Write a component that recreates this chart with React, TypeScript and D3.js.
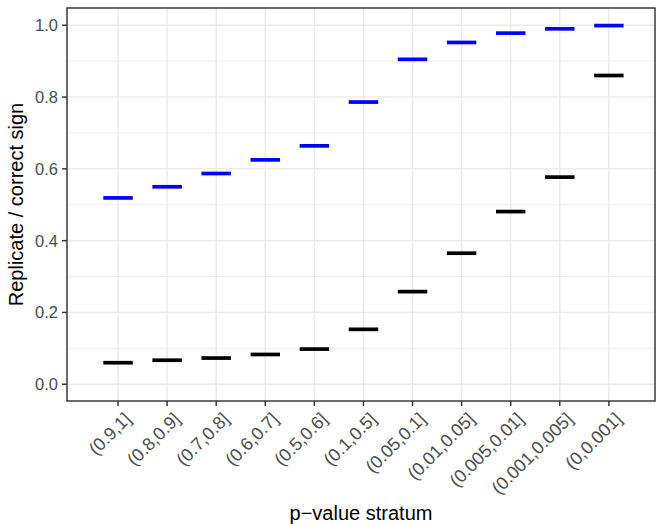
import React from 'react';
import * as d3 from 'd3';

const categories = [
  '(0.9,1]', '(0.8,0.9]', '(0.7,0.8]', '(0.6,0.7]', '(0.5,0.6]', '(0.1,0.5]',
  '(0.05,0.1]', '(0.01,0.05]', '(0.005,0.01]', '(0.001,0.005]', '(0,0.001]',
];
const correctSign = [0.519, 0.55, 0.587, 0.625, 0.664, 0.786, 0.905, 0.952, 0.978, 0.99, 0.999];
const replicate = [0.06, 0.067, 0.073, 0.083, 0.098, 0.153, 0.258, 0.365, 0.481, 0.577, 0.86];
const yTicks = [0, 0.2, 0.4, 0.6, 0.8, 1.0];
const yMinor = [0.1, 0.3, 0.5, 0.7, 0.9];

const W = 657;
const H = 524;
const panel = { left: 67, right: 655, top: 8, bottom: 401 };
const font = '"Liberation Sans", Arial, Helvetica, sans-serif';

const App = () => {
  const x = d3.scaleLinear().domain([-1.04, 10.94]).range([panel.left, panel.right]);
  const y = d3.scaleLinear().domain([-0.0466, 1.048]).range([panel.bottom, panel.top]);
  const half = 0.3;

  return (
    <svg width={W} height={H} style={{ position: 'absolute', left: 0, top: 0 }}>
      <rect x={0} y={0} width={W} height={H} fill="white" />
      {/* grid */}
      {yMinor.map((v) => (
        <line key={'mn' + v} x1={panel.left} x2={panel.right} y1={y(v)} y2={y(v)} stroke="#ebebeb" strokeWidth={0.75} />
      ))}
      {yTicks.map((v) => (
        <line key={'mj' + v} x1={panel.left} x2={panel.right} y1={y(v)} y2={y(v)} stroke="#ebebeb" strokeWidth={1.45} />
      ))}
      {categories.map((c, i) => (
        <line key={'gx' + c} x1={x(i)} x2={x(i)} y1={panel.top} y2={panel.bottom} stroke="#ebebeb" strokeWidth={1.45} />
      ))}
      {/* segments */}
      {replicate.map((v, i) => (
        <line key={'r' + i} x1={x(i - half)} x2={x(i + half)} y1={y(v)} y2={y(v)} stroke="black" strokeWidth={3.7} />
      ))}
      {correctSign.map((v, i) => (
        <line key={'c' + i} x1={x(i - half)} x2={x(i + half)} y1={y(v)} y2={y(v)} stroke="blue" strokeWidth={3.7} />
      ))}
      <rect x={panel.left} y={panel.top} width={panel.right - panel.left} height={panel.bottom - panel.top}
        fill="none" stroke="#333333" strokeWidth={1.45} />
      {/* y axis */}
      {yTicks.map((v) => (
        <g key={'yt' + v}>
          <line x1={panel.left - 5} x2={panel.left} y1={y(v)} y2={y(v)} stroke="#333333" strokeWidth={1.45} />
          <text x={panel.left - 9} y={y(v)} dy="0.36em" textAnchor="end" fontFamily={font} fontSize={16.5} fill="#4d4d4d">
            {d3.format('.1f')(v)}
          </text>
        </g>
      ))}
      {/* x axis */}
      {categories.map((c, i) => (
        <g key={'xt' + c}>
          <line x1={x(i)} x2={x(i)} y1={panel.bottom} y2={panel.bottom + 5} stroke="#333333" strokeWidth={1.45} />
          <text transform={`translate(${x(i) + 5},${panel.bottom + 10}) rotate(-45)`} textAnchor="end" dy="0.72em"
            fontFamily={font} fontSize={18} fill="#4d4d4d">
            {c}
          </text>
        </g>
      ))}
      <text x={(panel.left + panel.right) / 2} y={520} textAnchor="middle" fontFamily={font} fontSize={20} fill="black">
        p−value stratum
      </text>
      <text transform={`translate(22.5,${(panel.top + panel.bottom) / 2}) rotate(-90)`} textAnchor="middle"
        fontFamily={font} fontSize={20} fill="black">
        Replicate / correct sign
      </text>
    </svg>
  );
};

export default App;
